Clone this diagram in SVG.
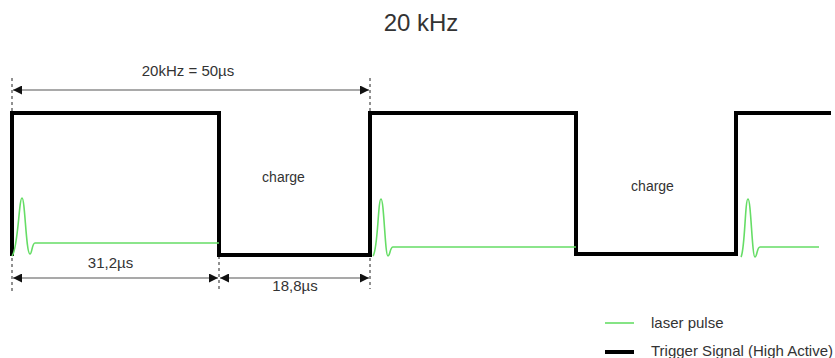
<svg xmlns="http://www.w3.org/2000/svg" width="835" height="358" viewBox="0 0 835 358">
<defs>
<marker id="ah" viewBox="0 0 10 10" refX="10" refY="5" markerWidth="9" markerHeight="9" markerUnits="userSpaceOnUse" orient="auto-start-reverse">
<path d="M0,0 L10,5 L0,10 z" fill="#111"/>
</marker>
<style>
text{font-family:"Liberation Sans",Arial,sans-serif;fill:#333}
.trig{fill:none;stroke:#000;stroke-width:4;stroke-linejoin:miter}
.laser{fill:none;stroke:#66dd66;stroke-width:1.6}
.dim{fill:none;stroke:#555;stroke-width:1.2}
.dash{fill:none;stroke:#222;stroke-width:1;stroke-dasharray:3,3}
</style>
</defs>
<rect width="835" height="358" fill="#fff"/>
<text x="421" y="31" font-size="24" text-anchor="middle">20 kHz</text>
<g id="guides">
<line class="dash" x1="12" y1="78" x2="12" y2="294"/>
<line class="dash" x1="370" y1="78" x2="370" y2="289"/>
<line class="dash" x1="219" y1="256" x2="219" y2="289"/>
</g>
<g id="trigger">
<path class="trig" d="M12,256 L12,113 L219,113 L219,255 L370,255 L370,113 L576,113 L576,254 L736,254 L736,113 L831,113"/>
</g>
<g id="laser">
<path class="laser" d="M12,256 C18,250 19,198 22,198 C25,198 26,254 30,254 C32,254 32,243 35,243 L219,243"/>
<path class="laser" d="M373,256 C378,250 378,199 381,199 C384,199 385,256 388,256 C390,256 390,247 393,247 L576,247"/>
<path class="laser" d="M741,257 C745,250 745,199 748,199 C751,199 752,257 755,257 C757,257 757,247 760,247 L819,247"/>
</g>
<g id="dimensions">
<line class="dim" x1="13" y1="90" x2="369" y2="90" marker-start="url(#ah)" marker-end="url(#ah)"/>
<line class="dim" x1="13" y1="278" x2="218" y2="278" marker-start="url(#ah)" marker-end="url(#ah)"/>
<line class="dim" x1="220" y1="278" x2="369" y2="278" marker-start="url(#ah)" marker-end="url(#ah)"/>
</g>
<g id="labels">
<text x="188" y="76" font-size="15" text-anchor="middle">20kHz = 50µs</text>
<text x="110.5" y="268" font-size="15" text-anchor="middle">31,2µs</text>
<text x="295" y="291" font-size="15" text-anchor="middle">18,8µs</text>
<text x="283.5" y="182" font-size="14" text-anchor="middle">charge</text>
<text x="652.5" y="191" font-size="14" text-anchor="middle">charge</text>
</g>
<g id="legend">
<line x1="605" y1="323" x2="634" y2="323" stroke="#66dd66" stroke-width="1.6"/>
<text x="651" y="328" font-size="15">laser pulse</text>
<line x1="605" y1="352" x2="634" y2="352" stroke="#000" stroke-width="4"/>
<text x="651" y="356" font-size="15">Trigger Signal (High Active)</text>
</g>
</svg>
